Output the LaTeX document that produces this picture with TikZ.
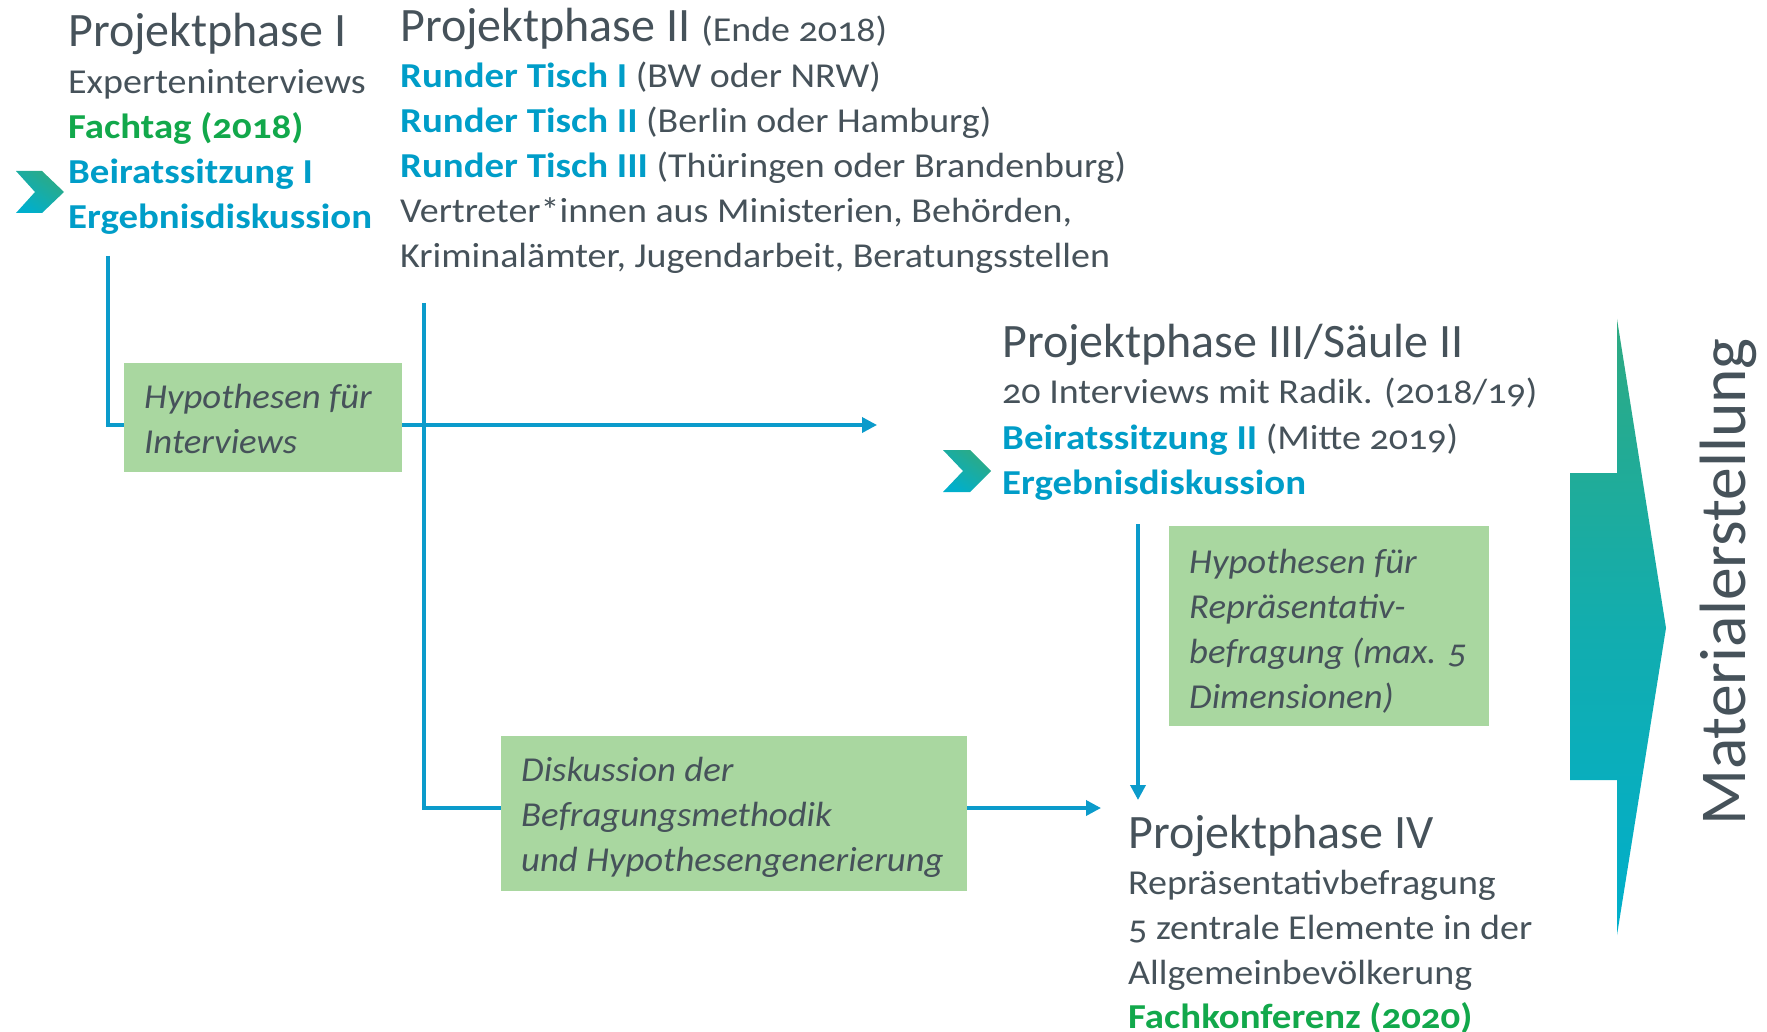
\documentclass[tikz,border=0pt]{standalone}
\usepackage{fontspec}
\setmainfont{Carlito}[Numbers=OldStyle,
  UprightFeatures={FakeStretch=1.085},
  BoldFeatures={FakeStretch=1.11},
  ItalicFeatures={FakeStretch=1.05}]
\newfontfamily\ttlfont{Carlito}[Numbers=OldStyle]
\usetikzlibrary{arrows.meta,calc}
\definecolor{tgray}{HTML}{46525A}
\definecolor{tcyan}{HTML}{009DC8}
\definecolor{tgreen}{HTML}{12A84B}
\definecolor{lblue}{HTML}{0B9BCB}
\definecolor{bgreen}{HTML}{A9D7A0}
\definecolor{agreen}{HTML}{2EAA82}
\definecolor{acyan}{HTML}{00AFCC}
\newcommand{\rsz}{\fontsize{35}{44}\selectfont}
\newcommand{\tsz}{\ttlfont\fontsize{48}{56}\selectfont}
\begin{document}
\begin{tikzpicture}[x=1pt,y=-1pt,
  txt/.style={anchor=base west, inner sep=0pt, text=tgray, font=\rsz},
  ttl/.style={txt, font=\tsz},
  bcy/.style={txt, text=tcyan, font=\rsz\bfseries},
  bgr/.style={txt, text=tgreen, font=\rsz\bfseries},
  itx/.style={txt, font=\rsz\itshape},
  gbox/.style={fill=bgreen, inner sep=0pt, anchor=north west},
  flow/.style={draw=lblue, line width=3.5pt},
  arr/.style={flow, -{Triangle[length=15pt,width=15pt]}}]
\useasboundingbox (0,0) rectangle (1767,1032);

% connectors (drawn first, boxes cover them)
\coordinate (s1) at (108,256);
\coordinate (e1) at (877,425);
\coordinate (s2) at (424,303);
\coordinate (e2) at (1101,808);
\coordinate (s3) at (1138,524);
\coordinate (e3) at (1138,800);
\draw[arr] (s1) |- (e1);
\draw[arr] (s2) |- (e2);
\draw[arr] (s3) -- (e3);

% green boxes
\node[gbox, minimum width=278pt, minimum height=109pt] (hb1) at (124,363) {};
\node[gbox, minimum width=320pt, minimum height=200pt] (hb2) at (1169,526) {};
\node[gbox, minimum width=466pt, minimum height=155pt] (hb3) at (501,736) {};

\node[itx] (hb1a) at (144,408) {Hypothesen für};
\node[itx] (hb1b) at (144,453) {Interviews};
\node[itx] (hb2a) at (1189,573) {Hypothesen für};
\node[itx] (hb2b) at (1189,618) {Repräsentativ-};
\node[itx] (hb2c) at (1189,663) {befragung (max. 5};
\node[itx] (hb2d) at (1189,708) {Dimensionen)};
\node[itx] (hb3a) at (521,781) {Diskussion der};
\node[itx] (hb3b) at (521,826) {Befragungsmethodik};
\node[itx] (hb3c) at (521,871) {und Hypothesengenerierung};

% chevrons
\shade[top color=agreen, bottom color=acyan, shading angle=-35]
  (16,171) -- (42,171) -- (64,192) -- (42,213) -- (16,213) -- (35,192) -- cycle;
\shade[top color=agreen, bottom color=acyan, shading angle=-35]
  (943,450) -- (970,450) -- (991,471) -- (970,492) -- (943,492) -- (963,471) -- cycle;

% Projektphase I
\node[ttl] (p1t) at (68,47) {Projektphase I};
\node[txt] (p1a) at (68,94) {Experteninterviews};
\node[bgr] (p1b) at (68,139) {Fachtag (2018)};
\node[bcy] (p1c) at (68,184) {Beiratssitzung I};
\node[bcy] (p1d) at (68,229) {Ergebnisdiskussion};

% Projektphase II
\node[ttl] (p2t) at (400,42) {Projektphase II {\rmfamily\rsz(Ende 2018)}};
\node[txt] (p2a) at (400,88) {{\color{tcyan}\bfseries Runder Tisch I} (BW oder NRW)};
\node[txt] (p2b) at (400,133) {{\color{tcyan}\bfseries Runder Tisch II} (Berlin oder Hamburg)};
\node[txt] (p2c) at (400,178) {{\color{tcyan}\bfseries Runder Tisch III} (Thüringen oder Brandenburg)};
\node[txt] (p2d) at (400,223) {Vertreter*innen aus Ministerien, Behörden,};
\node[txt] (p2e) at (400,268) {Kriminalämter, Jugendarbeit, Beratungsstellen};

% Projektphase III
\node[ttl] (p3t) at (1002,357) {Projektphase III/Säule II};
\node[txt] (p3a) at (1002,403) {20 Interviews mit Radik. (2018/19)};
\node[txt] (p3b) at (1002,449) {{\color{tcyan}\bfseries Beiratssitzung II} (Mitte 2019)};
\node[bcy] (p3c) at (1002,494) {Ergebnisdiskussion};

% Projektphase IV
\node[ttl] (p4t) at (1128,848) {Projektphase IV};
\node[txt] (p4a) at (1128,894) {Repräsentativbefragung};
\node[txt] (p4b) at (1128,939) {5 zentrale Elemente in der};
\node[txt] (p4c) at (1128,984) {Allgemeinbevölkerung};
\node[bgr] (p4d) at (1128,1028) {Fachkonferenz (2020)};

% big arrow
\shade[top color=agreen, bottom color=acyan, middle color=acyan!60!agreen]
  (1617,319) -- (1666,628) -- (1617,935) -- (1617,780) -- (1570,780)
  -- (1570,473) -- (1617,473) -- cycle;
\node[rotate=90, anchor=base west, inner sep=0pt, text=tgray,
  font=\ttlfont\fontsize{65.5}{70}\selectfont] (mat) at (1745,826) {Materialerstellung};
\end{tikzpicture}
\end{document}
